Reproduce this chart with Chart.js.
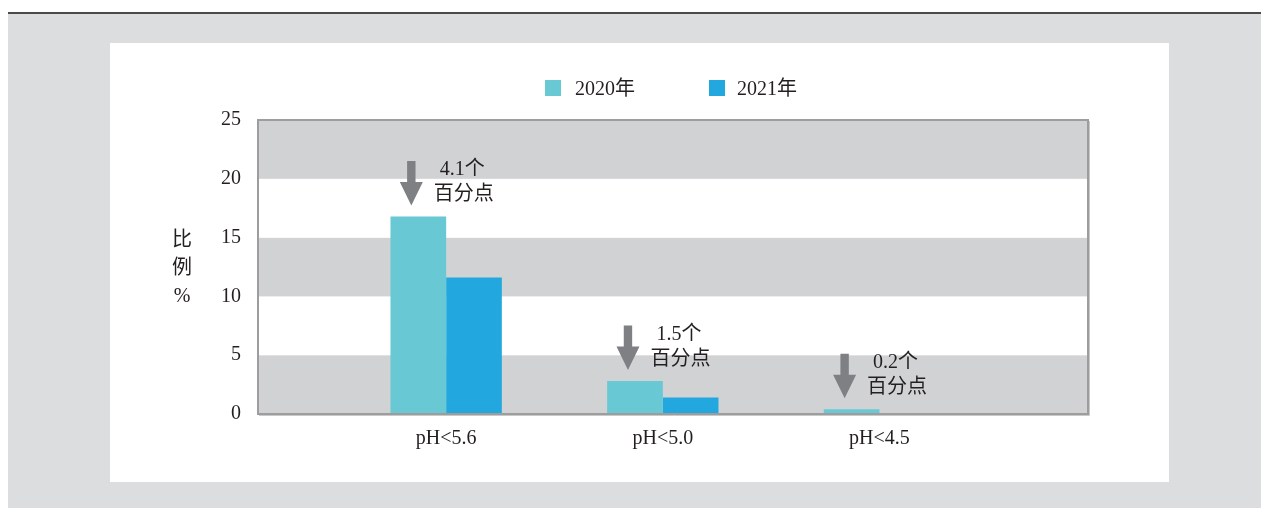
<!DOCTYPE html>
<html>
<head>
<meta charset="utf-8">
<script src="https://cdn.jsdelivr.net/npm/chart.js@4/dist/chart.umd.min.js"></script>
<style>
  html, body { margin: 0; padding: 0; background: #ffffff; width: 1261px; height: 508px; overflow: hidden; }
  #topline { position: absolute; left: 8px; top: 12px; width: 1253px; height: 2px; background: #4a4a4a; }
  #bg { position: absolute; left: 8px; top: 14px; width: 1253px; height: 494px; background: #dcdddf; }
  #panel { position: absolute; left: 110px; top: 43px; width: 1059px; height: 439px; background: #ffffff; }
  #chart { position: absolute; left: 0; top: 0; }
  .txt { font-family: "Liberation Serif", "Noto Sans CJK SC", serif; font-size: 20px; color: #231f20; }
  #ytitle { position: absolute; left: 52px; top: 182px; width: 40px; text-align: center; line-height: 28px; }
  #legend { position: absolute; top: 33px; left: 0; height: 24px; }
  .lg-item { position: absolute; top: 0; white-space: nowrap; line-height: 24px; }
  .lg-box { position: absolute; top: 4px; width: 16px; height: 16px; }
  .lg-text { position: absolute; top: 0; }
</style>
</head>
<body>
<div id="topline"></div>
<div id="bg"></div>
<div id="panel">
  <canvas id="chart" width="1059" height="439"></canvas>
  <div id="ytitle" class="txt"></div>
  <div id="legend" class="txt"></div>
</div>
<script>
// ---- data ----
const categories = ['pH<5.6', 'pH<5.0', 'pH<4.5'];
const series2020 = [16.8, 2.8, 0.4];
const series2021 = [11.6, 1.4, 0];
const seriesNames = ['2020年', '2021年'];
const seriesColors = ['#68c8d4', '#22a8de'];
const changeLabels = ['4.1个', '1.5个', '0.2个'];
const changeUnit = '百分点';
const yTicks = [0, 5, 10, 15, 20, 25];
const yTitleLines = ['比', '例', '%'];

// ---- y title & legend (HTML text) ----
document.getElementById('ytitle').innerHTML = yTitleLines.join('<br>');
const legendEl = document.getElementById('legend');
const legendPos = [{box: 435, text: 465}, {box: 599, text: 627}];
seriesNames.forEach((name, i) => {
  const item = document.createElement('div');
  item.className = 'lg-item';
  item.style.left = '0px';
  item.innerHTML = '<span class="lg-box" style="left:' + legendPos[i].box + 'px;background:' + seriesColors[i] + '"></span>' +
                   '<span class="lg-text" style="left:' + legendPos[i].text + 'px">' + name + '</span>';
  legendEl.appendChild(item);
});

const FONT = '"Liberation Serif", "Noto Sans CJK SC", serif';
const TEXT_COLOR = '#231f20';

const bandPlugin = {
  id: 'bands',
  beforeDatasetsDraw(chart) {
    const {ctx, chartArea, scales: {y}} = chart;
    ctx.save();
    for (let i = 0; i < yTicks.length - 1; i++) {
      const yTop = y.getPixelForValue(yTicks[i + 1]);
      const yBot = y.getPixelForValue(yTicks[i]);
      ctx.fillStyle = (i % 2 === 0) ? '#d1d2d4' : '#ffffff';
      ctx.fillRect(chartArea.left, yTop, chartArea.right - chartArea.left, yBot - yTop);
    }
    ctx.restore();
  },
  afterDatasetsDraw(chart) {
    const {ctx, chartArea} = chart;
    ctx.save();
    // subtle shadow on right / bottom
    ctx.strokeStyle = '#c9c9c9';
    ctx.lineWidth = 1;
    ctx.beginPath();
    ctx.moveTo(chartArea.right + 1.5, chartArea.top + 1);
    ctx.lineTo(chartArea.right + 1.5, chartArea.bottom + 1.5);
    ctx.lineTo(chartArea.left + 1, chartArea.bottom + 1.5);
    ctx.stroke();
    ctx.strokeStyle = '#9d9d9d';
    ctx.lineWidth = 2;
    ctx.strokeRect(chartArea.left, chartArea.top, chartArea.right - chartArea.left, chartArea.bottom - chartArea.top);
    ctx.restore();

    // arrows + change labels above the 2020 bars
    const meta = chart.getDatasetMeta(0);
    ctx.save();
    meta.data.forEach((bar, i) => {
      const ax = bar.x - 7;
      const tip = bar.y - 11;
      const top = tip - 44.5;
      const headH = 23.5;
      ctx.fillStyle = '#7f8083';
      ctx.beginPath();
      ctx.moveTo(ax - 4.2, top);
      ctx.lineTo(ax + 4.2, top);
      ctx.lineTo(ax + 4.2, tip - headH);
      ctx.lineTo(ax + 11.5, tip - headH);
      ctx.lineTo(ax, tip);
      ctx.lineTo(ax - 11.5, tip - headH);
      ctx.lineTo(ax - 4.2, tip - headH);
      ctx.closePath();
      ctx.fill();
      ctx.fillStyle = TEXT_COLOR;
      ctx.font = '20px ' + FONT;
      ctx.textAlign = 'center';
      ctx.textBaseline = 'middle';
      ctx.fillText(changeLabels[i], ax + 51, top + 9);
      ctx.fillText(changeUnit, ax + 52.5, top + 34);
    });
    ctx.restore();
  }
};

const toPoints = (vals) => categories.map((c, i) => ({x: i + 1, y: vals[i]}));

new Chart(document.getElementById('chart'), {
  type: 'bar',
  data: {
    datasets: [
      { label: seriesNames[0], data: toPoints(series2020), backgroundColor: seriesColors[0], borderWidth: 0 },
      { label: seriesNames[1], data: toPoints(series2021), backgroundColor: seriesColors[1], borderWidth: 0 }
    ]
  },
  options: {
    responsive: false,
    devicePixelRatio: 1,
    animation: false,
    events: [],
    categoryPercentage: 0.514,
    barPercentage: 1.0,
    layout: { padding: { top: 77, left: 108, right: 81, bottom: 0 } },
    plugins: { legend: { display: false }, tooltip: { enabled: false } },
    scales: {
      x: {
        type: 'linear',
        offset: false,
        min: 0.1315,
        max: 3.9626,
        grid: { display: false, drawTicks: false, offset: false },
        border: { display: false },
        afterBuildTicks: (scale) => { scale.ticks = categories.map((c, i) => ({ value: i + 1 })); },
        afterFit: (scale) => { scale.height = 68; },
        ticks: {
          padding: 13,
          autoSkip: false,
          maxRotation: 0,
          color: TEXT_COLOR,
          font: { family: FONT, size: 20 },
          callback: (v) => categories[Math.round(v) - 1]
        }
      },
      y: {
        min: 0,
        max: 25,
        grid: { display: false, drawTicks: false },
        border: { display: false },
        afterBuildTicks: (scale) => { scale.ticks = yTicks.map(v => ({ value: v })); },
        afterFit: (scale) => { scale.width = 40; },
        ticks: {
          padding: 17,
          color: TEXT_COLOR,
          font: { family: FONT, size: 20 }
        }
      }
    }
  },
  plugins: [bandPlugin]
});
</script>
</body>
</html>
